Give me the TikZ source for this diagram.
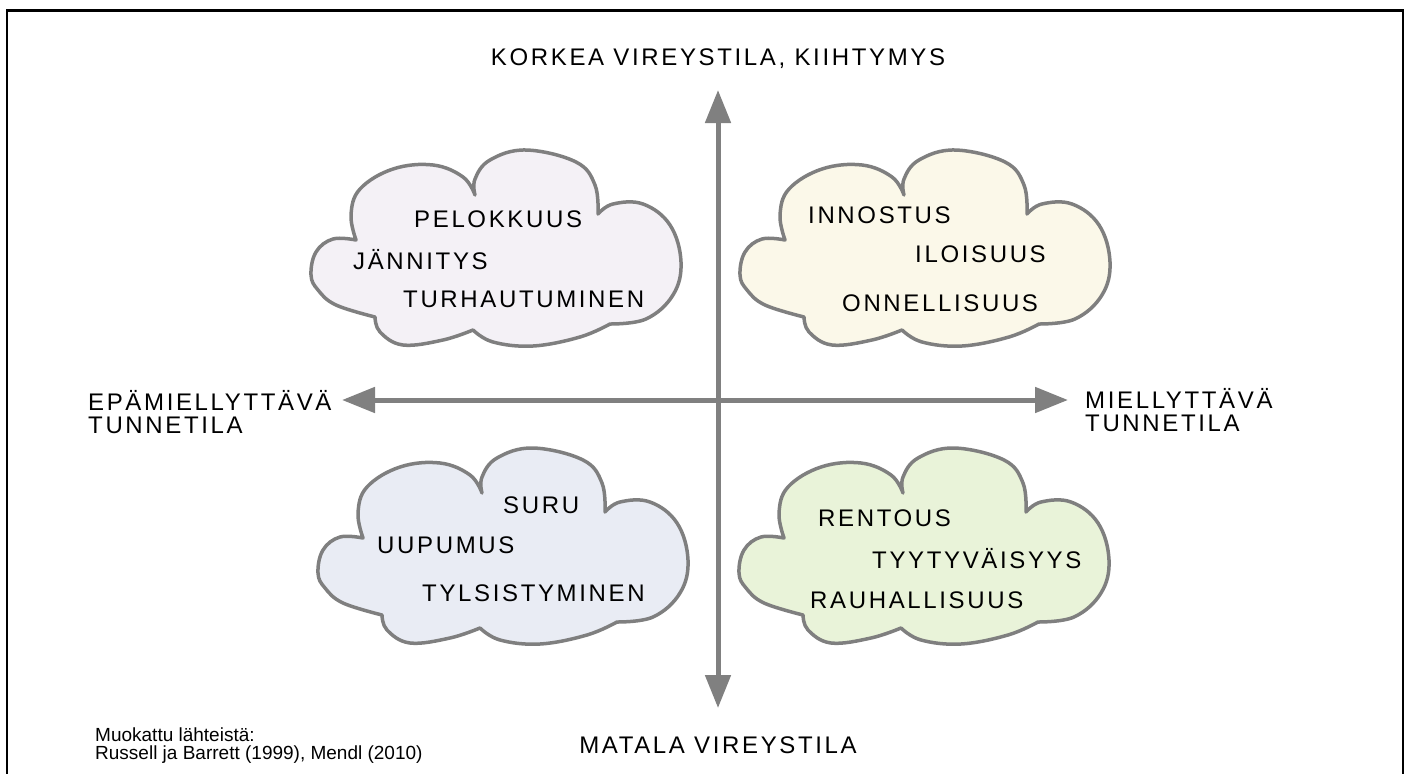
\documentclass[tikz,border=0pt]{standalone}
\usepackage{fontspec}
\setmainfont{Liberation Sans}
\newfontfamily\spaced[LetterSpace=11]{Liberation Sans}
\usetikzlibrary{arrows.meta}
\definecolor{cloudline}{HTML}{7F7F7F}
\definecolor{axisgray}{HTML}{808080}
\definecolor{tlfill}{HTML}{F4F1F6}
\definecolor{trfill}{HTML}{FBF8E9}
\definecolor{blfill}{HTML}{E9ECF4}
\definecolor{brfill}{HTML}{E9F3D9}
\tikzset{
  cloudpic/.pic={
    \path[pic actions]
      plot[smooth,tension=0.65] coordinates {(-140,-8) (-163,-9) (-180,4) (-185,27) (-178,42) (-160,57) (-121,69)}
      -- plot[smooth,tension=0.65] coordinates {(-121,69) (-116,84) (-93,97) (-53,92) (-23,82)}
      -- plot[smooth,tension=0.65] coordinates {(-23,82) (-3,94) (37,98) (84,89) (114,76)}
      -- plot[smooth,tension=0.65] coordinates {(114,76) (150,71) (177,47) (185,14) (174,-23) (147,-44) (117,-44) (102,-34)}
      -- plot[smooth,tension=0.65] coordinates {(102,-34) (99,-63) (80,-86) (30,-98) (-6,-88) (-21,-69) (-21,-53)}
      -- plot[smooth,tension=0.65] coordinates {(-21,-53) (-33,-71) (-63,-83) (-103,-79) (-136,-59) (-145,-33) (-140,-8)}
      -- cycle;
  }
}
\begin{document}
\begin{tikzpicture}[x=1bp,y=-1bp,
  lbl/.style={inner sep=0pt, anchor=base west, font=\spaced\fontsize{24bp}{28bp}\selectfont},
  clbl/.style={inner sep=0pt, anchor=base, font=\spaced\fontsize{24bp}{28bp}\selectfont},
  src/.style={inner sep=0pt, anchor=base west, font=\fontsize{19bp}{22bp}\selectfont},
  cloudstyle/.style={draw=cloudline, line width=3.5bp, line join=round, fill=#1},
  axis/.style={draw=axisgray, line width=5bp,
    {Triangle[length=33bp,width=25bp]}-{Triangle[length=33bp,width=25bp]}}
]
\useasboundingbox (0,0) rectangle (1407,773);
\clip (0,0) rectangle (1407,773);
% frame
\draw[line width=2.6bp] (7,10.5) rectangle (1403,790);

% clouds
\pic[cloudstyle=tlfill] at (496,248) {cloudpic};
\pic[cloudstyle=trfill] at (925,248) {cloudpic};
\pic[cloudstyle=blfill] at (503,546) {cloudpic};
\pic[cloudstyle=brfill] at (924,546) {cloudpic};

% axes
\coordinate (vtop) at (718,90);
\coordinate (vbot) at (718,708);
\coordinate (hleft) at (342,400);
\coordinate (hright) at (1068,400);
\draw[axis] (vbot) -- (vtop);
\draw[axis] (hleft) -- (hright);

% axis labels
\node[clbl] (high) at (718,66) {KORKEA VIREYSTILA, KIIHTYMYS};
\node[clbl] (low) at (718,753) {MATALA VIREYSTILA};
\node[lbl] (unpl1) at (88,410) {EPÄMIELLYTTÄVÄ};
\node[lbl] (unpl2) at (88,433) {TUNNETILA};
\node[lbl] (pl1) at (1085,408) {MIELLYTTÄVÄ};
\node[lbl] (pl2) at (1085,431) {TUNNETILA};

% cloud texts
\node[lbl] (pelo) at (414,227) {PELOKKUUS};
\node[lbl] (jann) at (353,269) {JÄNNITYS};
\node[lbl] (turh) at (403,307) {TURHAUTUMINEN};

\node[lbl] (inno) at (808,223) {INNOSTUS};
\node[lbl] (ilo) at (915,262) {ILOISUUS};
\node[lbl] (onne) at (842,311) {ONNELLISUUS};

\node[lbl] (suru) at (503,513) {SURU};
\node[lbl] (uupu) at (377,553) {UUPUMUS};
\node[lbl] (tyls) at (422,601) {TYLSISTYMINEN};

\node[lbl] (rent) at (818,526) {RENTOUS};
\node[lbl] (tyyt) at (872,568) {TYYTYVÄISYYS};
\node[lbl] (rauh) at (810,608) {RAUHALLISUUS};

% source
\node[src] (src1) at (95,741) {Muokattu lähteistä:};
\node[src] (src2) at (95,759) {Russell ja Barrett (1999), Mendl (2010)};
\end{tikzpicture}
\end{document}
